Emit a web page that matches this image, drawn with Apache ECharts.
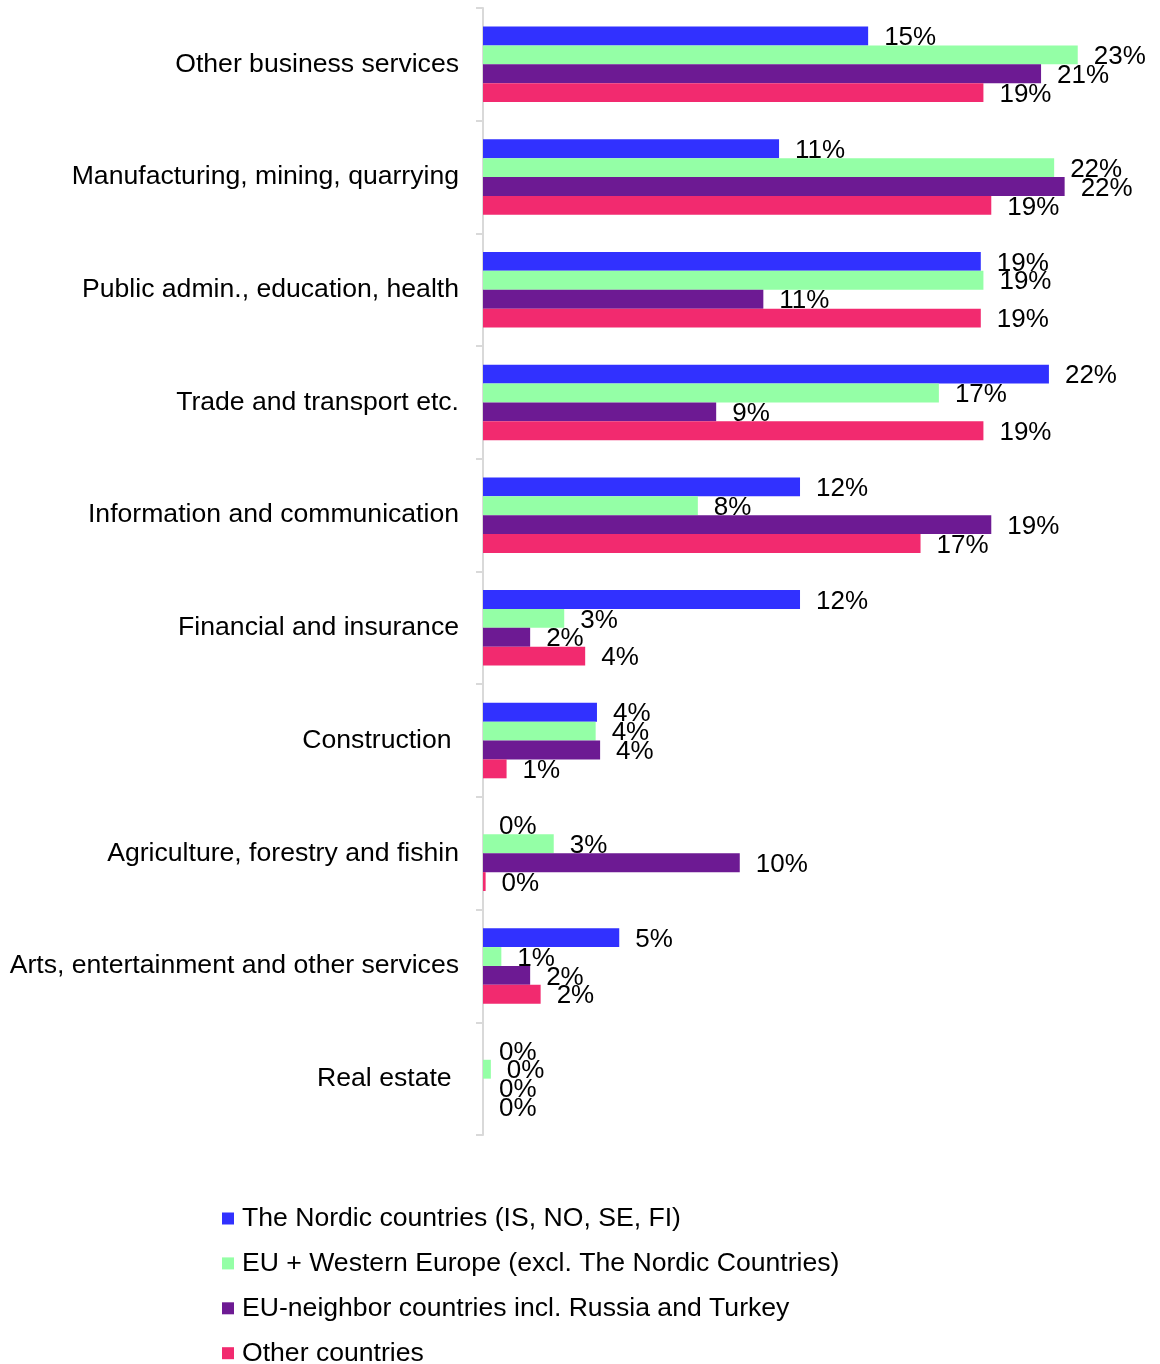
<!DOCTYPE html>
<html>
<head>
<meta charset="utf-8">
<script src="https://cdn.jsdelivr.net/npm/echarts@6/dist/echarts.min.js"></script>
<style>
html,body{margin:0;padding:0;background:#fff;}
#chart{width:1160px;height:1364px;}
</style>
</head>
<body>
<div id="chart"></div>
<script>
const categories = [
  "Other business services",
  "Manufacturing, mining, quarrying",
  "Public admin., education, health",
  "Trade and transport etc.",
  "Information and communication",
  "Financial and insurance",
  "Construction ",
  "Agriculture, forestry and fishin",
  "Arts, entertainment and other services",
  "Real estate "
];
const seriesNames = [
  "The Nordic countries (IS, NO, SE, FI)",
  "EU + Western Europe (excl. The Nordic Countries)",
  "EU-neighbor countries incl. Russia and Turkey",
  "Other countries"
];
const nordic   = [14.7, 11.3, 19.0, 21.6, 12.1, 12.1, 4.35, 0.0, 5.2, 0.0];
const euWest   = [22.7, 21.8, 19.1, 17.4, 8.2, 3.1, 4.3, 2.7, 0.7, 0.3];
const neighbor = [21.3, 22.2, 10.7, 8.9, 19.4, 1.8, 4.47, 9.8, 1.8, 0.0];
const other    = [19.1, 19.4, 19.0, 19.1, 16.7, 3.9, 0.9, 0.1, 2.2, 0.0];
const colors = ["#3131FF", "#94FFA6", "#6D1A93", "#F22A6F"];

const font = "Liberation Sans, Arial, sans-serif";
const chart = echarts.init(document.getElementById('chart'), null, {renderer: 'canvas'});
const dataSets = [nordic, euWest, neighbor, other];
const series = dataSets.map((d, i) => ({
  name: seriesNames[i],
  type: 'bar',
  data: d,
  barGap: '0%',
  barCategoryGap: '33%',
  itemStyle: {color: colors[i]},
  label: {
    show: true,
    position: 'right',
    distance: 16,
    color: '#000',
    fontSize: 26,
    fontFamily: font,
    offset: [0, 2],
    formatter: p => Math.round(p.value) + '%'
  },
  emphasis: {disabled: true}
}));

chart.setOption({
  animation: false,
  backgroundColor: '#fff',
  color: colors,
  grid: {left: 483, top: 8, width: 655, height: 1127, containLabel: false},
  xAxis: {
    type: 'value', min: 0, max: 25,
    show: false
  },
  yAxis: {
    type: 'category',
    data: categories,
    inverse: true,
    axisLine: {show: true, lineStyle: {color: '#D9D9D9', width: 2}},
    axisTick: {show: true, length: 7, lineStyle: {color: '#D9D9D9', width: 2}},
    axisLabel: {color: '#000', fontSize: 26.6, fontFamily: font, margin: 24}
  },
  legend: {
    orient: 'vertical',
    left: 222,
    top: 1205,
    width: 800,
    height: 300,
    padding: 0,
    itemWidth: 12,
    itemHeight: 12,
    itemGap: 17.9,
    icon: 'rect',
    textStyle: {color: '#000', fontSize: 26.6, fontFamily: font, padding: [0, 0, 0, 3]},
    data: seriesNames
  },
  series: series
});
</script>
</body>
</html>
